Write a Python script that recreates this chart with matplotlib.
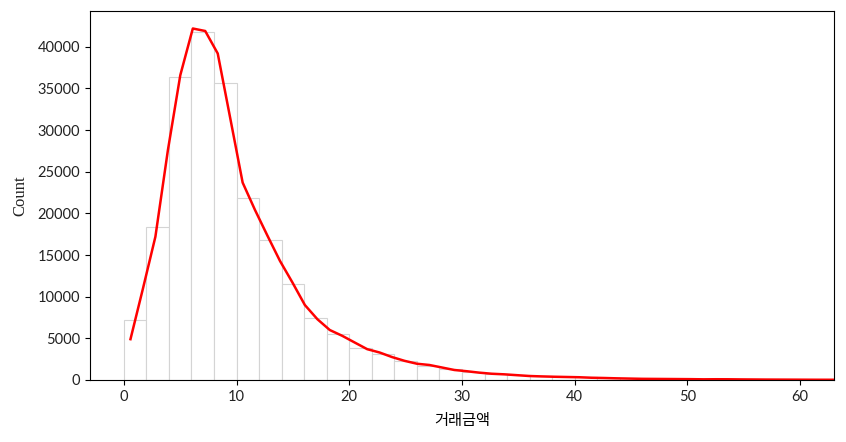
import numpy as np
import matplotlib
matplotlib.use("Agg")
import matplotlib.pyplot as plt

plt.rcParams['font.family'] = ['Lato', 'Noto Sans CJK KR', 'DejaVu Sans']

# Histogram bins (width 2)
bin_edges = list(range(0, 66, 2))
bar_counts = [7200, 18400, 36400, 41800, 35600, 21800, 16800, 11500, 7400, 5500,
              3900, 3100, 2300, 1700, 1300, 950, 720, 560, 450, 380,
              320, 250, 200, 160, 140, 120, 100, 90, 80, 60, 50, 40]

# Red line (frequency polygon)
line_x = [0.59, 1.70, 2.80, 3.91, 5.01, 6.12, 7.22, 8.33, 9.43, 10.54,
          11.64, 12.75, 13.85, 14.96, 16.06, 17.17, 18.27, 19.38, 20.48, 21.59,
          22.69, 23.80, 24.90, 26.01, 27.11, 28.22, 29.32, 30.43, 31.53, 32.64,
          33.74, 34.85, 35.95, 37.06, 38.16, 39.27, 40.37, 41.48, 42.58, 43.69,
          44.79, 45.90, 47.00, 48.11, 49.21, 50.32, 51.42, 52.53, 53.63, 54.74,
          55.84, 56.95, 58.05, 59.16, 60.26, 61.37, 62.47, 63.58]
line_y = [4900, 11000, 17200, 27600, 36600, 42200, 41900, 39200, 31500, 23700,
          20400, 17300, 14300, 11700, 9000, 7300, 6000, 5300, 4500, 3700,
          3300, 2750, 2300, 1950, 1800, 1500, 1200, 1050, 880, 750,
          680, 580, 480, 430, 390, 360, 330, 270, 240, 200,
          170, 140, 130, 120, 110, 100, 80, 90, 85, 70,
          60, 50, 45, 40, 35, 30, 28, 25]

fig = plt.figure(figsize=(8.46, 4.42), dpi=100)
ax = fig.add_axes([0.1064, 0.1403, 0.8794, 0.8348])

lefts = bin_edges[:-1]
widths = np.diff(bin_edges)
ax.bar(lefts, bar_counts, width=widths, align='edge', color='white',
       edgecolor='#d4d4d4', linewidth=0.8)
ax.plot(line_x, line_y, color='red', linewidth=1.8)

ax.set_xlim(-3.0, 63.0)
ax.set_ylim(0, 44300)
ax.set_yticks(range(0, 40001, 5000))
ax.set_xticks(range(0, 61, 10))
ax.tick_params(labelsize=10.5, labelcolor='#222222')
ax.set_xlabel('거래금액', fontsize=11, fontweight='light',
              family=['Noto Sans CJK KR', 'DejaVu Sans'], labelpad=6)
ax.set_ylabel('Count', fontsize=12, family=['Liberation Serif'], labelpad=7,
              color='#222222')

fig.savefig('out.png', dpi=100)
